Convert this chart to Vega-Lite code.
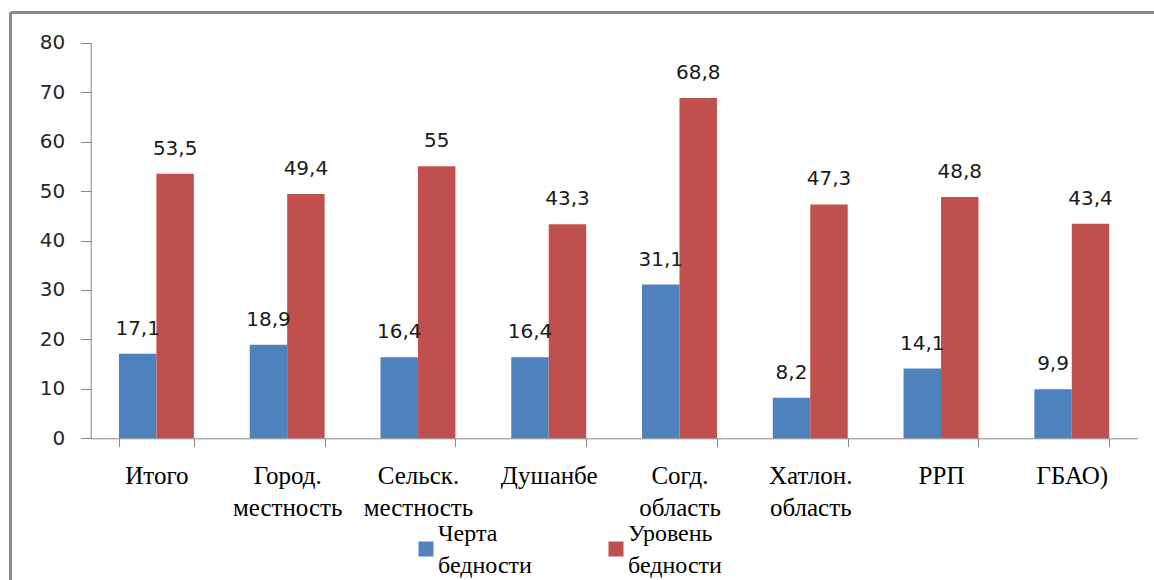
{
  "$schema": "https://vega.github.io/schema/vega-lite/v6.json",
  "autosize": "none",
  "padding": {"left": 10, "top": 12, "right": 0, "bottom": 0},
  "width": 1144,
  "height": 568,
  "background": "white",
  "title": {
    "text": "Соотношение неимущего населения",
    "font": "Liberation Serif",
    "fontSize": 20,
    "fontWeight": "normal",
    "color": "#000000",
    "anchor": "middle",
    "baseline": "alphabetic",
    "offset": 7,
    "dx": -10
  },
  "data": {
    "values": [
      {"category": "Итого", "series": "Черта бедности", "value": 17.1},
      {"category": "Итого", "series": "Уровень бедности", "value": 53.5},
      {"category": "Город. местность", "series": "Черта бедности", "value": 18.9},
      {"category": "Город. местность", "series": "Уровень бедности", "value": 49.4},
      {"category": "Сельск. местность", "series": "Черта бедности", "value": 16.4},
      {"category": "Сельск. местность", "series": "Уровень бедности", "value": 55},
      {"category": "Душанбе", "series": "Черта бедности", "value": 16.4},
      {"category": "Душанбе", "series": "Уровень бедности", "value": 43.3},
      {"category": "Согд. область", "series": "Черта бедности", "value": 31.1},
      {"category": "Согд. область", "series": "Уровень бедности", "value": 68.8},
      {"category": "Хатлон. область", "series": "Черта бедности", "value": 8.2},
      {"category": "Хатлон. область", "series": "Уровень бедности", "value": 47.3},
      {"category": "РРП", "series": "Черта бедности", "value": 14.1},
      {"category": "РРП", "series": "Уровень бедности", "value": 48.8},
      {"category": "ГБАО)", "series": "Черта бедности", "value": 9.9},
      {"category": "ГБАО)", "series": "Уровень бедности", "value": 43.4}
    ]
  },
  "layer": [
    {
      "encoding": {
        "x": {
          "field": "category",
          "type": "nominal",
          "sort": null,
          "scale": {"range": [80.7, 1127.5], "paddingInner": 0.427, "paddingOuter": 0.216},
          "axis": {
            "title": null,
            "offset": -141.7,
            "labelAngle": 0,
            "labelExpr": "split(datum.label, ' ')",
            "labelFont": "Liberation Serif",
            "labelFontSize": 25,
            "labelColor": "#000000",
            "labelLineHeight": 32,
            "labelBaseline": "top",
            "labelPadding": 17,
            "labelLimit": 200,
            "tickBand": "extent",
            "tickSize": 8,
            "tickColor": "#868686",
            "domainColor": "#868686",
            "grid": false
          }
        },
        "xOffset": {
          "field": "series",
          "type": "nominal",
          "sort": ["Черта бедности", "Уровень бедности"],
          "scale": {"paddingInner": 0, "paddingOuter": 0}
        },
        "y": {
          "field": "value",
          "type": "quantitative",
          "scale": {"domain": [0, 80], "range": [426.3, 30.7], "nice": false},
          "axis": {
            "title": null,
            "offset": -80.7,
            "values": [0, 10, 20, 30, 40, 50, 60, 70, 80],
            "labelFont": "DejaVu Sans",
            "labelFontSize": 20,
            "labelColor": "#262626",
            "labelPadding": 16,
            "tickSize": 10,
            "tickColor": "#868686",
            "domainColor": "#868686",
            "grid": false
          }
        }
      },
      "layer": [
        {
          "mark": {"type": "bar"},
          "encoding": {
            "color": {
              "field": "series",
              "type": "nominal",
              "sort": ["Черта бедности", "Уровень бедности"],
              "scale": {"domain": ["Черта бедности", "Уровень бедности"], "range": ["#4F81BD", "#C0504D"]},
              "legend": {
                "title": null,
                "orient": "none",
                "legendX": 404,
                "legendY": 525,
                "direction": "horizontal",
                "symbolType": "square",
                "symbolSize": 225,
                "symbolStrokeWidth": 0,
                "labelExpr": "split(datum.label, ' ')",
                "labelFont": "Liberation Serif",
                "labelFontSize": 24,
                "labelColor": "#000000",
                "labelBaseline": "alphabetic",
                "labelOffset": 0,
                "labelLimit": 300,
                "columnPadding": 72,
                "encode": {"labels": {"update": {"lineHeight": {"value": 32}, "dy": {"value": -8}}}}
              }
            }
          }
        },
        {
          "mark": {"type": "text", "baseline": "alphabetic", "dy": -19, "font": "DejaVu Sans", "fontSize": 20, "color": "#1a1a1a"},
          "encoding": {
            "text": {"field": "value", "type": "quantitative", "format": "~r"}
          }
        }
      ]
    },
    {
      "mark": {"type": "point", "opacity": 0},
      "encoding": {
        "x": {
          "datum": 0,
          "type": "quantitative",
          "scale": {"domain": [0, 1], "range": [0, 1300], "nice": false, "zero": false},
          "axis": {"orient": "top", "offset": 0, "domain": true, "domainColor": "#8a8a8a", "domainWidth": 3, "ticks": false, "labels": false, "title": null, "grid": false}
        },
        "y": {
          "datum": 0,
          "type": "quantitative",
          "scale": {"domain": [0, 1], "range": [0, 700], "nice": false, "zero": false},
          "axis": {"orient": "right", "offset": -1144, "domain": true, "domainColor": "#8a8a8a", "domainWidth": 3, "ticks": false, "labels": false, "title": null, "grid": false}
        }
      }
    }
  ],
  "resolve": {"scale": {"x": "independent", "y": "independent"}, "axis": {"x": "independent", "y": "independent"}},
  "config": {
    "view": {"stroke": null},
    "locale": {"number": {"decimal": ",", "thousands": " ", "grouping": [3], "currency": ["", ""]}}
  }
}
